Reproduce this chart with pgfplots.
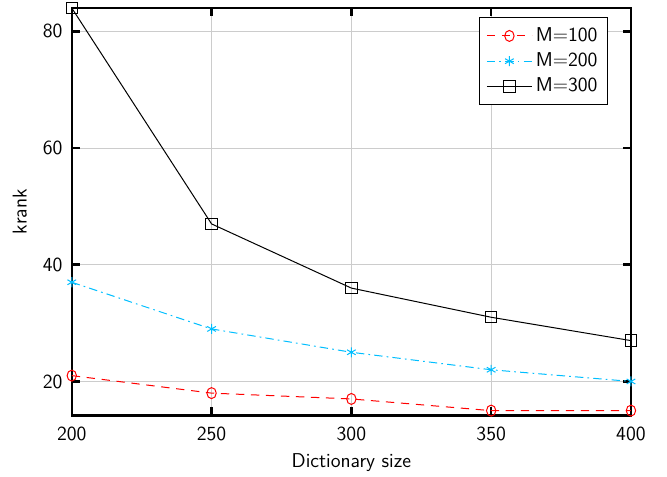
\documentclass[border=0pt]{standalone}
\usepackage{pgfplots}
\pgfplotsset{compat=1.18}
\definecolor{mcyan}{RGB}{0,190,255}
\begin{document}
\fontsize{12}{14}\selectfont\sffamily
\begin{tikzpicture}
\begin{axis}[
  name=ax,
  scale only axis,
  width=335pt, height=244pt,
  xmin=200, xmax=400, ymin=14.2, ymax=84,
  xtick={200,250,300,350,400},
  ytick={20,40,60,80},
  tick align=inside,
  major tick length=5pt,
  tick style={line width=1.5pt, black},
  axis line style={line width=1.5pt},
  grid=major,
  grid style={line width=0.6pt, black!20},
  xlabel={Dictionary size},
  ylabel={krank},
  /pgf/number format/assume math mode=true,
  ticklabel style={font=\sffamily},
  xticklabel style={yshift=-3pt},
  yticklabel style={anchor=east, inner sep=0pt, xshift=-5.4pt},
  label style={font=\sffamily},
  xlabel style={at={(axis description cs:0.5,-0.1155)}, anchor=center},
  ylabel style={at={(axis description cs:-0.093,0.5)}, anchor=center},
  legend style={at={(0.959,0.978)}, anchor=north east, font=\sffamily, draw=black, line width=0.6pt, row sep=1pt, inner sep=4pt, cells={anchor=west}},
  legend cell align=left,
  legend image code/.code={\draw[mark repeat=2,mark phase=2] plot coordinates {(0pt,0pt)(13.5pt,0pt)(27pt,0pt)};},
  clip=false,
]
\addplot[red, dash pattern=on 5pt off 4pt, line width=0.6pt, mark=o, mark size=3.3pt, mark options={solid, line width=0.6pt, xscale=0.85}]
  coordinates {(200,21) (250,18) (300,17) (350,15) (400,15)};
\addlegendentry{M$=$100}
\addplot[mcyan, dash pattern=on 5pt off 2.5pt on 1pt off 2.5pt, line width=0.6pt, mark=asterisk, mark size=3pt, mark options={solid, line width=0.6pt}]
  coordinates {(200,37) (250,29) (300,25) (350,22) (400,20)};
\addlegendentry{M$=$200}
\addplot[black, line width=0.6pt, mark=square, mark size=3.4pt, mark options={solid, line width=0.6pt}]
  coordinates {(200,84) (250,47) (300,36) (350,31) (400,27)};
\addlegendentry{M$=$300}
\end{axis}
\pgfresetboundingbox
\path[use as bounding box] ([shift={(-43pt,-36.5pt)}]ax.south west) rectangle ([shift={(21.6pt,4.8pt)}]ax.north east);
\end{tikzpicture}
\end{document}
